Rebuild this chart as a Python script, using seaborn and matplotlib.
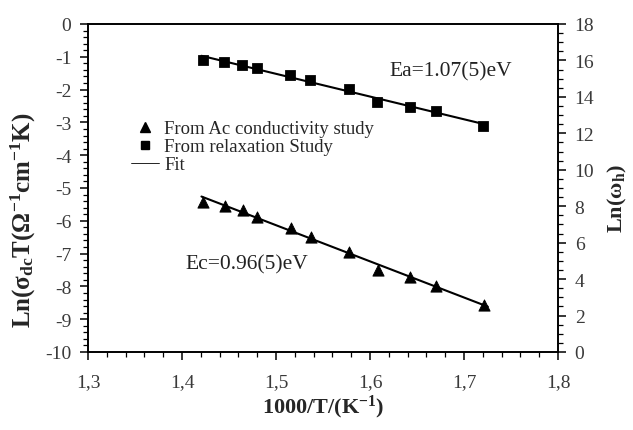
import numpy as np
import pandas as pd
import matplotlib
matplotlib.use("Agg")
import matplotlib.pyplot as plt
from matplotlib.lines import Line2D
from matplotlib.ticker import MultipleLocator, FuncFormatter
import seaborn as sns

# data
x_ac = [1.4227, 1.4457, 1.4646, 1.4801, 1.5160, 1.5369, 1.5777, 1.6082, 1.6426, 1.6699, 1.7213]
ln_sigma = [-5.42, -5.54, -5.67, -5.87, -6.23, -6.48, -6.96, -7.50, -7.72, -7.98, -8.56]

x_rel = [1.4227, 1.4450, 1.4635, 1.4795, 1.5150, 1.5362, 1.5780, 1.6078, 1.6426, 1.6699, 1.7205]
ln_omega = [16.02, 15.89, 15.77, 15.59, 15.21, 14.94, 14.44, 13.73, 13.46, 13.21, 12.42]

sns.set_theme(style="white")
plt.rcParams['font.family'] = ['Liberation Serif', 'DejaVu Serif']
plt.rcParams['axes.unicode_minus'] = False
plt.rcParams['mathtext.fontset'] = 'custom'
plt.rcParams['mathtext.rm'] = 'Liberation Serif'
plt.rcParams['mathtext.it'] = 'Liberation Serif:italic'
plt.rcParams['mathtext.bf'] = 'Liberation Serif:bold'

df_ac = pd.DataFrame({"x": x_ac, "y": ln_sigma})
df_rel = pd.DataFrame({"x": x_rel, "y": ln_omega})

# linear fits
def fit(df):
    p = np.polyfit(df["x"], df["y"], 1)
    xs = np.array([df["x"].min() - 0.002, df["x"].max() + 0.004])
    return pd.DataFrame({"x": xs, "y": np.polyval(p, xs)})

fit_ac = fit(df_ac)
fit_rel = fit(df_rel)

fig = plt.figure(figsize=(6.33, 4.31), dpi=100)
ax1 = fig.add_axes([0.139, 0.181, 0.7425, 0.761])
ax2 = ax1.twinx()

sns.lineplot(data=fit_ac, x="x", y="y", ax=ax1, color="black", lw=1.5)
sns.scatterplot(data=df_ac, x="x", y="y", ax=ax1, marker="^", color="black", s=65, edgecolor="black", zorder=3)
sns.lineplot(data=fit_rel, x="x", y="y", ax=ax2, color="black", lw=1.5)
sns.scatterplot(data=df_rel, x="x", y="y", ax=ax2, marker="s", color="black", s=50, edgecolor="black", zorder=3)

ax1.set_xlim(1.3, 1.8)
ax1.set_ylim(-10, 0)
ax2.set_ylim(0, 18)

ax1.xaxis.set_major_locator(MultipleLocator(0.1))
ax1.xaxis.set_minor_locator(MultipleLocator(0.02))
ax1.yaxis.set_major_locator(MultipleLocator(1))
ax1.yaxis.set_minor_locator(MultipleLocator(0.2))
ax2.yaxis.set_major_locator(MultipleLocator(2))
ax2.yaxis.set_minor_locator(MultipleLocator(0.5))
ax1.xaxis.set_major_formatter(FuncFormatter(lambda v, p: f"{v:.1f}".replace(".", ",")))

for ax in (ax1, ax2):
    for s in ax.spines.values():
        s.set_color("black")
        s.set_linewidth(1.2)
    ax.tick_params(which="major", direction="out", length=6, width=1.1, color="black",
                   labelsize=14, labelcolor="#3a3a3a")
    ax.tick_params(which="minor", direction="out", length=3.5, width=0.9, color="black")
ax1.tick_params(axis="x", which="both", bottom=True, top=False, pad=9)
ax1.tick_params(axis="y", which="both", left=True, right=False, pad=6)
ax2.tick_params(axis="y", which="both", right=True, left=False, pad=6)

ax1.set_xlabel("1000/T/(K$^{\\mathbf{-1}}$)", fontsize=16, fontweight="bold", labelpad=2)
ax1.set_ylabel("Ln($\\mathbf{\\sigma_{dc}}$T($\\mathbf{\\Omega^{-1}}$cm$^{\\mathbf{-1}}$K)",
               fontsize=18, fontweight="bold")
ax1.yaxis.set_label_coords(-0.106, 0.405)
ax2.set_ylabel("Ln($\\mathbf{\\omega_{h}}$)", fontsize=16, fontweight="bold")
ax2.yaxis.set_label_coords(1.103, 0.47)

ax2.text(1.621, 15.43, "Ea=1.07(5)eV", fontsize=15.5, color="#222222", va="center", ha="left")
ax1.text(1.404, -7.32, "Ec=0.96(5)eV", fontsize=15.5, color="#222222", va="center", ha="left")

handles = [
    Line2D([], [], marker="^", color="black", ls="none", markersize=6.5),
    Line2D([], [], marker="s", color="black", ls="none", markersize=6),
    Line2D([], [], color="black", lw=0.6),
]
labels = ["From Ac conductivity study", "From relaxation Study", "Fit"]
ax2.legend(handles, labels, loc="upper left", bbox_to_anchor=(0.076, 0.73), frameon=False,
           fontsize=13.5, handlelength=1.5, handletextpad=0.25, labelspacing=0.05, borderaxespad=0)

fig.savefig("out.png", dpi=100)
